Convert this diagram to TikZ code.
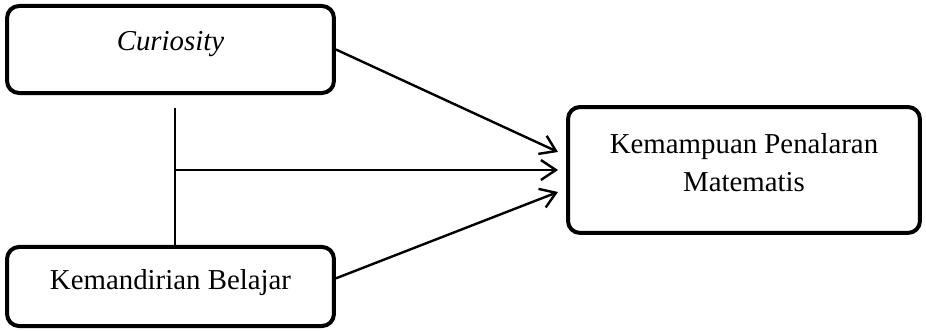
\documentclass[tikz,border=0pt]{standalone}
\usepackage{fontspec}
\setmainfont{Liberation Serif}
\usetikzlibrary{arrows.meta}

\tikzset{
  box/.style={draw, line width=1.66pt, rounded corners=5pt},
  txt/.style={align=center, anchor=base, font=\fontsize{12}{16.2}\selectfont},
  link/.style={line width=1pt, -{Straight Barb[length=6.2pt,width=8.3pt,line width=1pt]}}
}

\begin{document}
\begin{tikzpicture}[x=0.416pt,y=-0.416pt]
  \useasboundingbox (0,0) rectangle (926,331);

  \node[box, minimum width=136pt, minimum height=36.2pt] (cur) at (170.5,49.5) {};
  \node[box, minimum width=136pt, minimum height=32.9pt] (kb) at (170.5,286.5) {};
  \node[box, minimum width=146.4pt, minimum height=52.4pt] (kpm) at (744,170) {};

  \node[txt] (curtxt) at (170.5,51) {\textit{Curiosity}};
  \node[txt] (kbtxt) at (170.5,290) {Kemandirian Belajar};
  \node[txt] (kpmtxt) at (744,192) {Kemampuan Penalaran\\Matematis};

  \coordinate (v) at (175,108);
  \coordinate (h) at (175,170);
  \coordinate (t1) at (558,152);
  \coordinate (t2) at (558,170);
  \coordinate (t3) at (558,192);

  % garis penghubung
  \draw[line width=1pt] (v) -- (v |- kb.north);
  \draw[link] (cur.east) -- (t1);
  \draw[link] (h) -- (t2);
  \draw[link] ([yshift=3.4pt]kb.east) -- (t3);
\end{tikzpicture}
\end{document}
